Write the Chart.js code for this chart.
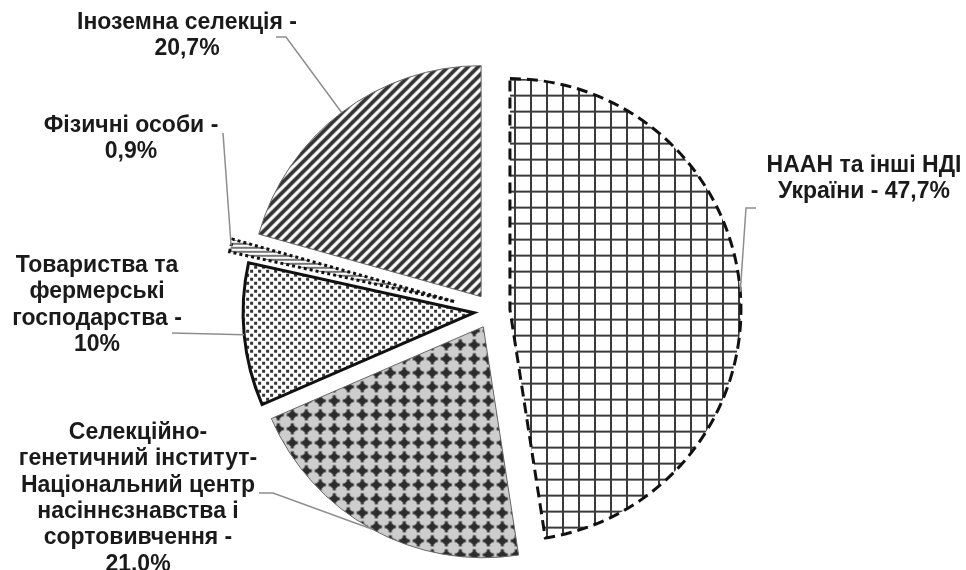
<!DOCTYPE html>
<html><head><meta charset="utf-8">
<script src="https://cdn.jsdelivr.net/npm/chart.js@4.4.1/dist/chart.umd.min.js"></script>
<style>html,body{margin:0;padding:0;background:#fff;}canvas{display:block;}</style>
</head><body>
<canvas id="c" width="966" height="570"></canvas>
<script>
// ---- data ----
const categories = [
  'НААН та інші НДІ України',
  'Селекційно-генетичний інститут-Національний центр насіннєзнавства і сортовивчення',
  'Товариства та фермерські господарства',
  'Фізичні особи',
  'Іноземна селекція'
];
const shares = [47.7, 21.0, 10, 0.9, 20.7];
const shareText = ['47,7%', '21.0%', '10%', '0,9%', '20,7%'];
const nameLines = [
  ['НААН та інші НДІ', 'України - '],
  ['Селекційно-', 'генетичний інститут-', 'Національний центр', 'насіннєзнавства і', 'сортовивчення -'],
  ['Товариства та', 'фермерські', 'господарства -'],
  ['Фізичні особи -'],
  ['Іноземна селекція -']
];
const pctInline = [true, false, false, false, false];

// ---- styling / layout ----
const explode = [18, 18, 18, 38, 18];
const labelPos = [ // text centre x, first baseline y
  {x: 864, y: 172}, {x: 138, y: 439}, {x: 97, y: 272}, {x: 131, y: 132}, {x: 187, y: 29}
];
const leaderPts = [
  [[756, 208], [746, 208]],
  [[259, 493], [273, 493]],
  [[172, 333]],
  [[223, 133]],
  [[276, 37], [286, 37]]
];
const lineH = 26.3;

function tile(w, h, draw) {
  const cv = document.createElement('canvas');
  cv.width = w; cv.height = h;
  const g = cv.getContext('2d');
  draw(g, w, h);
  return document.getElementById('c').getContext('2d').createPattern(cv, 'repeat');
}
const pGrid = tile(16, 16, (g, w, h) => {
  g.fillStyle = '#fff'; g.fillRect(0, 0, w, h);
  g.fillStyle = '#3a3a3a';
  g.fillRect(0, 0, 2, h); g.fillRect(0, 0, w, 2);
});
const pPlus = tile(14, 14, (g, w, h) => {
  g.fillStyle = '#cdcdcd'; g.fillRect(0, 0, w, h);
  g.fillStyle = '#2c2c2c';
  g.beginPath(); g.arc(7, 7, 3.6, 0, Math.PI * 2); g.fill();
  g.fillRect(5.5, 1.5, 3, 11); g.fillRect(1.5, 5.5, 11, 3);
});
const pDots = tile(8, 8, (g, w, h) => {
  g.fillStyle = '#fff'; g.fillRect(0, 0, w, h);
  g.fillStyle = '#333';
  g.fillRect(0, 0, 3, 3); g.fillRect(4, 4, 3, 3);
});
const pHoriz = tile(4, 4, (g, w, h) => {
  g.fillStyle = '#fff'; g.fillRect(0, 0, w, h);
  g.fillStyle = '#777'; g.fillRect(0, 0, w, 2);
});
const pDiag = tile(10, 10, (g, w, h) => {
  g.fillStyle = '#fff'; g.fillRect(0, 0, w, h);
  g.strokeStyle = '#333'; g.lineWidth = 3.8;
  g.beginPath();
  g.moveTo(-5, 15); g.lineTo(15, -5);
  g.moveTo(-5, 5); g.lineTo(5, -5);
  g.moveTo(5, 15); g.lineTo(15, 5);
  g.stroke();
});
const fills = [pGrid, pPlus, pDots, pHoriz, pDiag];
const borders = ['#111', '#666', '#111', '#111', '#666'];
const bWidths = [3, 1, 3, 3, 1];
const dashes = [[11, 6], [], [], [3, 3], []];

const explodePlugin = {
  id: 'explodeDraw',
  beforeDatasetDraw(chart, args) {
    const ctx = chart.ctx;
    args.meta.data.forEach((el, i) => {
      const mid = (el.startAngle + el.endAngle) / 2;
      ctx.save();
      ctx.translate(Math.cos(mid) * explode[i], Math.sin(mid) * explode[i]);
      el.draw(ctx, chart.chartArea);
      ctx.restore();
    });
    return false;
  }
};

const labelPlugin = {
  id: 'sliceLabels',
  afterDraw(chart) {
    const ctx = chart.ctx;
    const meta = chart.getDatasetMeta(0);
    ctx.save();
    meta.data.forEach((el, i) => {
      const mid = (el.startAngle + el.endAngle) / 2;
      const rr = el.outerRadius + explode[i];
      const ax = el.x + Math.cos(mid) * rr, ay = el.y + Math.sin(mid) * rr;
      ctx.strokeStyle = '#8e8e8e'; ctx.lineWidth = 1.5; ctx.setLineDash([]);
      ctx.beginPath();
      leaderPts[i].forEach((p, k) => k ? ctx.lineTo(p[0], p[1]) : ctx.moveTo(p[0], p[1]));
      ctx.lineTo(ax, ay);
      ctx.stroke();
      const lines = nameLines[i].slice();
      if (pctInline[i]) lines[lines.length - 1] += shareText[i]; else lines.push(shareText[i]);
      ctx.fillStyle = '#1a1a1a';
      ctx.font = 'bold 23px "Liberation Sans", Arial, sans-serif';
      ctx.textAlign = 'center'; ctx.textBaseline = 'alphabetic';
      lines.forEach((t, k) => ctx.fillText(t, labelPos[i].x, labelPos[i].y + k * lineH));
    });
    ctx.restore();
  }
};

new Chart(document.getElementById('c'), {
  type: 'pie',
  data: {
    labels: categories,
    datasets: [{
      data: shares,
      backgroundColor: fills,
      borderColor: borders,
      borderWidth: bWidths,
      borderDash: (c) => dashes[c.dataIndex],
      borderJoinStyle: 'miter',
      radius: 231
    }]
  },
  options: {
    responsive: false,
    animation: false,
    events: [],
    radius: 231,
    layout: {padding: {left: 18, top: 52, right: 0, bottom: 0}},
    plugins: {legend: {display: false}, tooltip: {enabled: false}}
  },
  plugins: [explodePlugin, labelPlugin]
});
</script>
</body></html>
